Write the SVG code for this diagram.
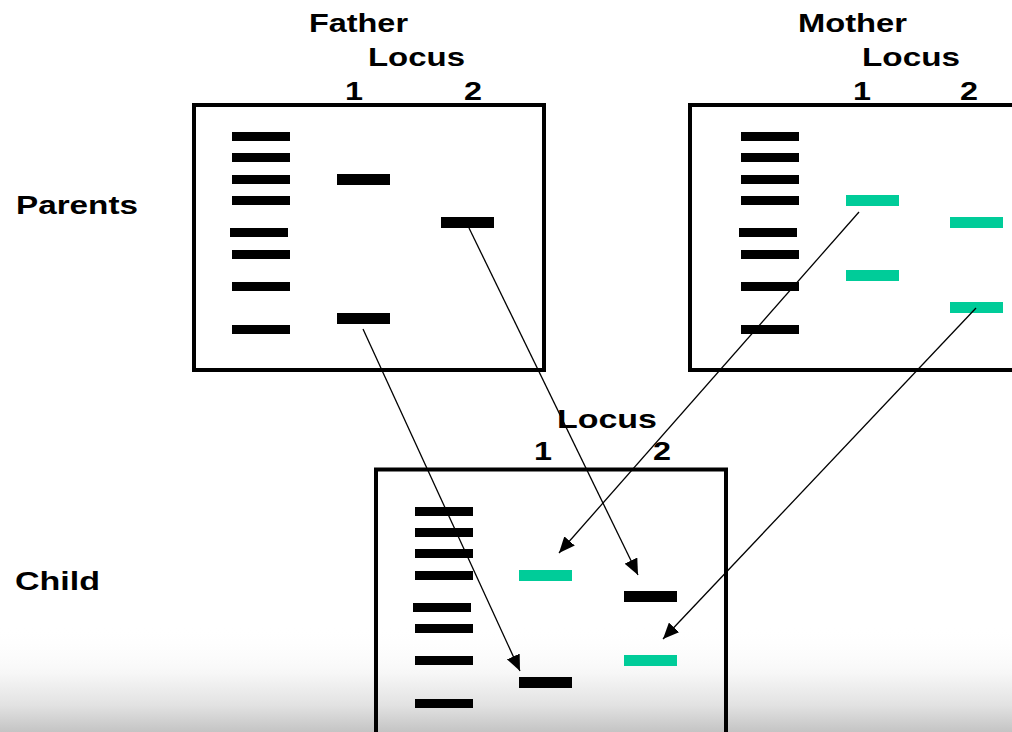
<svg xmlns="http://www.w3.org/2000/svg" width="1012" height="732" viewBox="0 0 1012 732">
<style>
.t{font-family:"Liberation Sans",Arial,sans-serif;font-weight:bold;font-size:25.5px;fill:#000}
.d{text-anchor:middle}
.box{fill:none;stroke:#000;stroke-width:4}
.k{fill:#000}
.g{fill:#00CC99}
.c{stroke:#000;stroke-width:1.3;fill:none;marker-end:url(#ah)}
</style>
<defs>
<linearGradient id="bg" x1="0" y1="0" x2="0" y2="1">
<stop offset="0" stop-color="#ffffff" stop-opacity="0"/>
<stop offset="0.45" stop-color="#f7f7f7"/>
<stop offset="0.75" stop-color="#e2e2e2"/>
<stop offset="1" stop-color="#c4c4c4"/>
</linearGradient>
<marker id="ah" markerUnits="userSpaceOnUse" markerWidth="17" markerHeight="14" refX="16" refY="7" orient="auto">
<path d="M0,0 L16,7 L0,14 z" fill="#000"/>
</marker>
</defs>
<rect width="1012" height="732" fill="#fff"/>
<rect x="0" y="625" width="1012" height="107" fill="url(#bg)"/>

<g id="labels">
<text class="t" x="16" y="214" textLength="122" lengthAdjust="spacingAndGlyphs">Parents</text>
<text class="t" x="15" y="590" textLength="85" lengthAdjust="spacingAndGlyphs">Child</text>
</g>

<g id="father">
<text class="t" x="309" y="32" textLength="99" lengthAdjust="spacingAndGlyphs">Father</text>
<text class="t" x="368" y="66" textLength="97" lengthAdjust="spacingAndGlyphs">Locus</text>
<text class="t d" x="354" y="100" textLength="18" lengthAdjust="spacingAndGlyphs">1</text>
<text class="t d" x="473" y="100" textLength="18" lengthAdjust="spacingAndGlyphs">2</text>
<rect class="box" x="194" y="105" width="350" height="265"/>
<rect class="k" x="232" y="132" width="58" height="9"/>
<rect class="k" x="232" y="153" width="58" height="9"/>
<rect class="k" x="232" y="175" width="58" height="9"/>
<rect class="k" x="232" y="196" width="58" height="9"/>
<rect class="k" x="230" y="228" width="58" height="9"/>
<rect class="k" x="232" y="250" width="58" height="9"/>
<rect class="k" x="232" y="282" width="58" height="9"/>
<rect class="k" x="232" y="325" width="58" height="9"/>
<rect class="k" x="337" y="174" width="53" height="11"/>
<rect class="k" x="337" y="313" width="53" height="11"/>
<rect class="k" x="441" y="217" width="53" height="11"/>
</g>

<g id="mother">
<text class="t" x="798" y="32" textLength="109" lengthAdjust="spacingAndGlyphs">Mother</text>
<text class="t" x="862" y="66" textLength="98" lengthAdjust="spacingAndGlyphs">Locus</text>
<text class="t d" x="862" y="100" textLength="18" lengthAdjust="spacingAndGlyphs">1</text>
<text class="t d" x="969" y="100" textLength="18" lengthAdjust="spacingAndGlyphs">2</text>
<rect class="box" x="690" y="105" width="340" height="265"/>
<rect class="k" x="741" y="132" width="58" height="9"/>
<rect class="k" x="741" y="153" width="58" height="9"/>
<rect class="k" x="741" y="175" width="58" height="9"/>
<rect class="k" x="741" y="196" width="58" height="9"/>
<rect class="k" x="739" y="228" width="58" height="9"/>
<rect class="k" x="741" y="250" width="58" height="9"/>
<rect class="k" x="741" y="282" width="58" height="9"/>
<rect class="k" x="741" y="325" width="58" height="9"/>
<rect class="g" x="846" y="195" width="53" height="11"/>
<rect class="g" x="846" y="270" width="53" height="11"/>
<rect class="g" x="950" y="217" width="53" height="11"/>
<rect class="g" x="950" y="302" width="53" height="11"/>
</g>

<g id="child">
<text class="t" x="557" y="428" textLength="100" lengthAdjust="spacingAndGlyphs">Locus</text>
<text class="t d" x="543" y="460" textLength="18" lengthAdjust="spacingAndGlyphs">1</text>
<text class="t d" x="662" y="460" textLength="18" lengthAdjust="spacingAndGlyphs">2</text>
<rect class="box" x="376" y="469.5" width="350" height="300"/>
<rect class="k" x="415" y="507" width="58" height="9"/>
<rect class="k" x="415" y="528" width="58" height="9"/>
<rect class="k" x="415" y="549" width="58" height="9"/>
<rect class="k" x="415" y="571" width="58" height="9"/>
<rect class="k" x="413" y="603" width="58" height="9"/>
<rect class="k" x="415" y="624" width="58" height="9"/>
<rect class="k" x="415" y="656" width="58" height="9"/>
<rect class="k" x="415" y="699" width="58" height="9"/>
<rect class="g" x="519" y="570" width="53" height="11"/>
<rect class="k" x="519" y="677" width="53" height="11"/>
<rect class="k" x="624" y="591" width="53" height="11"/>
<rect class="g" x="624" y="655" width="53" height="11"/>
</g>

<g id="connectors">
<line class="c" x1="363" y1="329" x2="520" y2="671"/>
<line class="c" x1="469" y1="228" x2="638" y2="575"/>
<line class="c" x1="859" y1="212" x2="559" y2="553"/>
<line class="c" x1="976" y1="308" x2="663" y2="639"/>
</g>
</svg>
